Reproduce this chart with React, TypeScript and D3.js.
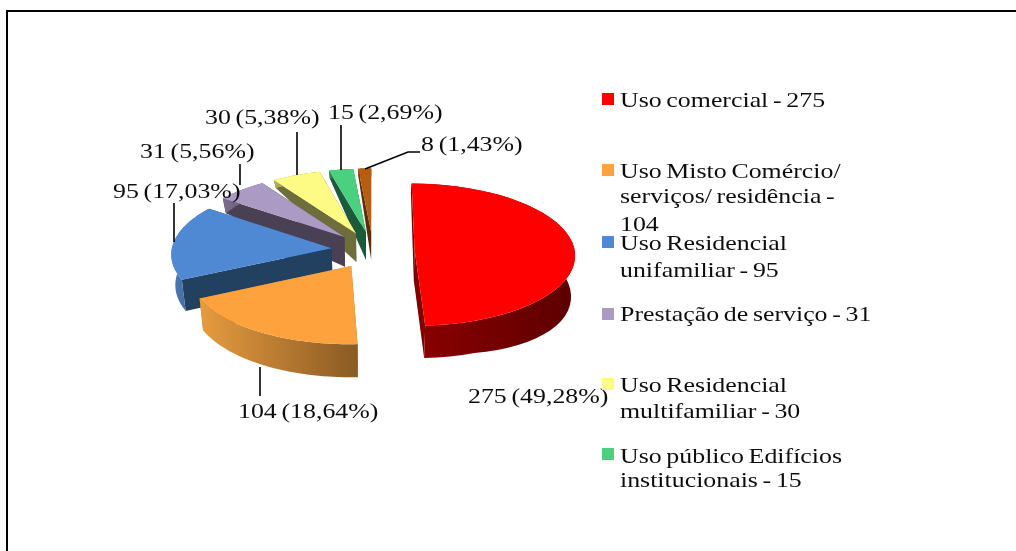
import React, { useEffect, useRef } from 'react';
import * as d3 from 'd3';

const categories = [
  'Uso comercial',
  'Uso Misto',
  'Uso Residencial unifamiliar',
  'Prestação de serviço',
  'Uso Residencial multifamiliar',
  'Uso público',
  'Outros',
];
const values = [275, 104, 95, 31, 30, 15, 8];
const percentLabels = ['49,28%', '18,64%', '17,03%', '5,56%', '5,38%', '2,69%', '1,43%'];
const topColors = ['#ff0000', '#fda23c', '#5089d4', '#ab9ac3', '#fdfb84', '#4cd07f', '#b85c08'];
const rimColors = [
  ['#8c0000', '#5c0000'],
  ['#e79c3f', '#8a5a24'],
  ['#4a78b5', '#3a5f94'],
  ['#7a6c8c', '#5c5070'],
  ['#b0ae5c', '#8a8848'],
  ['#2f8a55', '#1f6a40'],
  ['#6e3606', '#5a2c05'],
];
const faceColors = ['#800000', '#a86f2c', '#243f60', '#4a3f52', '#6e6e3c', '#1a5a3a', '#5a2e08'];
const legendLines = [
  ['Uso comercial - 275'],
  ['Uso Misto Comércio/', 'serviços/ residência -', '104'],
  ['Uso Residencial', 'unifamiliar - 95'],
  ['Prestação de serviço - 31'],
  ['Uso Residencial', 'multifamiliar - 30'],
  ['Uso público Edifícios', 'institucionais - 15'],
];

// layout
const legendSwatchY = [99, 170, 242, 314, 384, 454];
const legendLineY = [
  [107],
  [178, 203, 231],
  [250, 277],
  [321],
  [392, 418],
  [463, 487],
];
const labelAnchors = [
  { x: 468, y: 403 },
  { x: 238, y: 418 },
  { x: 113, y: 198 },
  { x: 140, y: 158 },
  { x: 205, y: 124 },
  { x: 328, y: 119 },
  { x: 421, y: 151 },
];
const leaders: [number, number][][] = [
  [],
  [[260, 367], [260, 396]],
  [[174, 242], [174, 203]],
  [[240, 185], [240, 164]],
  [[297, 175], [297, 132]],
  [[341, 170], [341, 125]],
  [[365, 169], [408, 152], [420, 152]],
];

const W = 1016;
const H = 551;
const cx = 373;
const cy = 250;
const Rx = 160;
const Ry = 71;
const persp = 0.07;
const explode = 0.26;
const startDeg = 0;
const textStretch = 1.176;
const font = '"Liberation Serif", serif';

// wall height shrinks towards the back of the pie
const wallH = d3.scaleLinear().domain([-1.04, -0.74, -0.18, 1.2]).range([8, 16, 30, 33]).clamp(true);

const App: React.FC = () => {
  const svgRef = useRef<SVGSVGElement>(null);

  useEffect(() => {
    const svg = d3.select(svgRef.current);
    svg.selectAll('*').remove();

    const defs = svg.append('defs');
    const blur = defs.append('filter').attr('id', 'soft');
    blur.append('feGaussianBlur').attr('stdDeviation', 0.45);

    svg.append('rect').attr('width', W).attr('height', H).attr('fill', '#fff');

    const frame = svg.append('g').attr('stroke', '#000').attr('stroke-width', 2);
    frame.append('line').attr('x1', 6).attr('x2', W).attr('y1', 11).attr('y2', 11);
    frame.append('line').attr('x1', 7).attr('x2', 7).attr('y1', 11).attr('y2', H);

    const arcs = d3
      .pie<number>()
      .sort(null)
      .startAngle((startDeg * Math.PI) / 180)
      .endAngle((startDeg * Math.PI) / 180 + 2 * Math.PI)(values);

    const project = (u: number, v: number): [number, number] => {
      const s = 1 + persp * v;
      return [cx + Rx * u * s, cy + Ry * v * s];
    };
    const lower = (u: number, v: number): [number, number] => {
      const [x, y] = project(u, v);
      const extra = Math.max(0, u - 0.6) * 16;
      return [x + (cx - x) * 0.02, y + wallH(v) + extra];
    };

    const line = d3.line();
    const pie = svg.append('g').attr('filter', 'url(#soft)');

    const order = d3.range(arcs.length).sort((a, b) => {
      const ma = (arcs[a].startAngle + arcs[a].endAngle) / 2;
      const mb = (arcs[b].startAngle + arcs[b].endAngle) / 2;
      return -Math.cos(ma) - -Math.cos(mb);
    });

    order.forEach(i => {
      const a = arcs[i];
      const mid = (a.startAngle + a.endAngle) / 2;
      const ox = Math.sin(mid) * explode;
      const oy = -Math.cos(mid) * explode;
      const steps = d3.range(0, 41).map(k => a.startAngle + ((a.endAngle - a.startAngle) * k) / 40);
      const rimPlan = steps.map(t => [ox + Math.sin(t), oy - Math.cos(t)]);
      const topRim = rimPlan.map(([u, v]) => project(u, v));
      const lowRim = rimPlan.map(([u, v]) => lower(u, v));
      const apex = project(ox, oy);
      const apexLow = lower(ox, oy);

      const xs = topRim.map(p => p[0]);
      const grad = defs
        .append('linearGradient')
        .attr('id', `rim${i}`)
        .attr('gradientUnits', 'userSpaceOnUse')
        .attr('x1', d3.min(xs)!)
        .attr('x2', d3.max(xs)!)
        .attr('y1', 0)
        .attr('y2', 0);
      grad.append('stop').attr('offset', 0).attr('stop-color', rimColors[i][0]);
      grad.append('stop').attr('offset', 1).attr('stop-color', rimColors[i][1]);

      const g = pie.append('g');
      // cut faces first, the rim and the top cover whichever one faces away
      g.append('path')
        .attr('d', line([apex, topRim[40], lowRim[40], apexLow]) + 'Z')
        .attr('fill', faceColors[i]);
      g.append('path')
        .attr('d', line([apex, topRim[0], lowRim[0], apexLow]) + 'Z')
        .attr('fill', faceColors[i]);
      g.append('path')
        .attr('d', line([...topRim, ...lowRim.slice().reverse()]) + 'Z')
        .attr('fill', `url(#rim${i})`);
      g.append('path')
        .attr('d', line([apex, ...topRim]) + 'Z')
        .attr('fill', topColors[i]);
    });

    const overlay = svg.append('g').attr('filter', 'url(#soft)');

    leaders.forEach(pts => {
      if (!pts.length) return;
      overlay
        .append('path')
        .attr('d', line(pts))
        .attr('fill', 'none')
        .attr('stroke', '#000')
        .attr('stroke-width', 1.6);
    });

    const addText = (x: number, y: number, t: string) =>
      overlay
        .append('text')
        .attr('transform', `translate(${x},${y}) scale(${textStretch},1)`)
        .attr('font-family', font)
        .attr('font-size', 22)
        .attr('word-spacing', -1.5)
        .attr('fill', '#111')
        .text(t);

    values.forEach((v, i) => {
      addText(labelAnchors[i].x, labelAnchors[i].y, `${v} (${percentLabels[i]})`);
    });

    legendLines.forEach((lines, i) => {
      overlay
        .append('rect')
        .attr('x', 602)
        .attr('y', legendSwatchY[i] - 6)
        .attr('width', 12)
        .attr('height', 12)
        .attr('fill', topColors[i]);
      lines.forEach((t, j) => addText(620, legendLineY[i][j], t));
    });
  }, []);

  return (
    <svg
      ref={svgRef}
      width={W}
      height={H}
      style={{ position: 'absolute', left: 0, top: 0, display: 'block' }}
    />
  );
};

export default App;
